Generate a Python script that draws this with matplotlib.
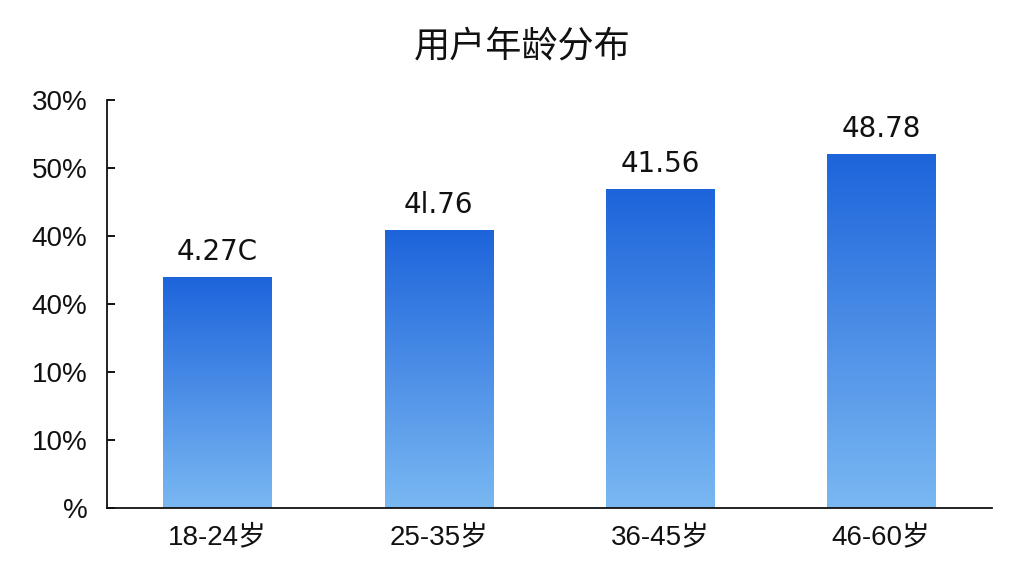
import numpy as np
import matplotlib
matplotlib.use("Agg")
import matplotlib.pyplot as plt
from matplotlib.colors import LinearSegmentedColormap

plt.rcParams['font.family'] = ['Noto Sans CJK SC', 'DejaVu Sans']

categories = ['18-24岁', '25-35岁', '36-45岁', '46-60岁']
values = [34.0, 40.9, 46.9, 52.1]
bar_labels = ['4.27C', '4l.76', '41.56', '48.78']
ytick_values = [0, 10, 20, 30, 40, 50, 60]
ytick_labels = ['%', '10%', '10%', '40%', '40%', '50%', '30%']
title = '用户年龄分布'

latin = ['Liberation Sans', 'Noto Sans CJK SC', 'DejaVu Sans']

fig = plt.figure(figsize=(10.24, 5.76), dpi=100)
ax = fig.add_axes([0.1045, 0.118, 0.864, 0.708])

x = np.arange(len(categories))
bars = ax.bar(x, values, width=0.49, color='none', edgecolor='none')

cmap = LinearSegmentedColormap.from_list('g', ['#7ab8f2', '#1d64db'])
grad = np.linspace(0, 1, 256).reshape(-1, 1)
for b in bars:
    x0, y0 = b.get_x(), b.get_y()
    w, h = b.get_width(), b.get_height()
    im = ax.imshow(grad, cmap=cmap, origin='lower', aspect='auto',
                   extent=[x0, x0 + w, y0, y0 + h], zorder=2)
    im.set_clip_path(b)

for xi, v, lab in zip(x, values, bar_labels):
    ax.annotate(lab, (xi, v), xytext=(0, 8), textcoords='offset points',
                ha='center', va='bottom', fontsize=20, color='#111111',
                family=['DejaVu Sans'])

ax.set_xlim(-0.5, 3.5)
ax.set_ylim(0, 60)
ax.set_yticks(ytick_values)
ax.set_yticklabels(ytick_labels, fontsize=20, color='#111111', family=latin)
ax.set_xticks(x)
ax.set_xticklabels(categories, fontsize=20, color='#111111', family=latin)
ax.tick_params(axis='y', direction='in', length=6, width=1.3, pad=14)
ax.tick_params(axis='x', length=0, pad=12)
for s in ['top', 'right']:
    ax.spines[s].set_visible(False)
for s in ['left', 'bottom']:
    ax.spines[s].set_linewidth(1.3)
    ax.spines[s].set_color('#111111')

fig.text(0.51, 0.917, title, ha='center', va='center', fontsize=26,
         fontweight='medium', color='#111111')

fig.savefig('out.png', dpi=100)
